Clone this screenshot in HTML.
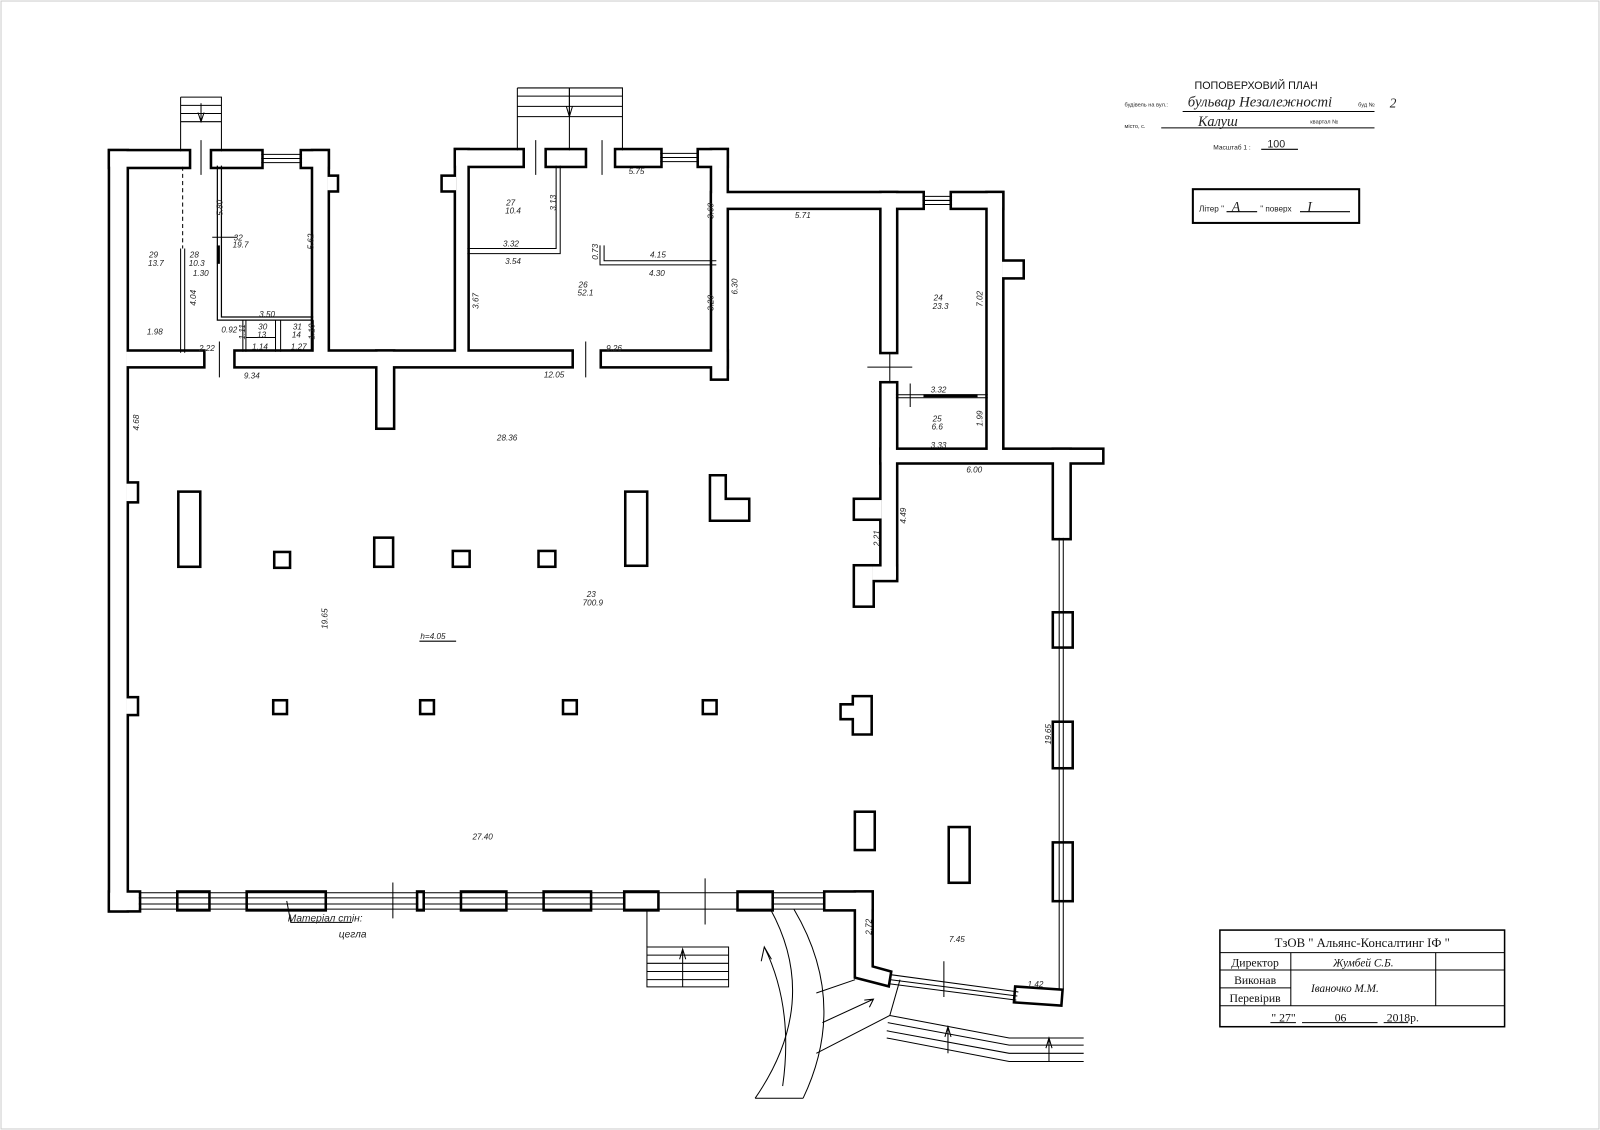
<!DOCTYPE html>
<html><head><meta charset="utf-8"><style>
html,body{margin:0;padding:0;background:#fff;}
svg{display:block;}
text{font-family:"Liberation Sans",sans-serif;font-style:italic;font-size:8px;fill:#222;}
.s{font-family:"Liberation Serif","DejaVu Serif",serif;}
.n{font-style:normal;}
</style></head><body>
<svg width="1600" height="1130" viewBox="0 0 1568 1105" preserveAspectRatio="none" xmlns="http://www.w3.org/2000/svg">
<rect x="1" y="1" width="1566" height="1103" fill="#fff" stroke="#ccc" stroke-width="1"/>
<defs>
<g id="w">
<rect x="108" y="148" width="77" height="15"/>
<rect x="208" y="148" width="48" height="15"/>
<rect x="296" y="148" width="25" height="15"/>
<rect x="108" y="148" width="16" height="742"/>
<rect x="124" y="473" width="10" height="17"/>
<rect x="124" y="683" width="10" height="15"/>
<rect x="307" y="148" width="14" height="203"/>
<rect x="321" y="173" width="9" height="13"/>
<rect x="124" y="344" width="75" height="14"/>
<rect x="231" y="344" width="329" height="14"/>
<rect x="370" y="344" width="15" height="74"/>
<rect x="590" y="344" width="122" height="14"/>
<rect x="447" y="147" width="65" height="15"/>
<rect x="536" y="147" width="37" height="15"/>
<rect x="604" y="147" width="43" height="15"/>
<rect x="685" y="147" width="27" height="15"/>
<rect x="447" y="147" width="11" height="204"/>
<rect x="434" y="173" width="13" height="13"/>
<rect x="698" y="147" width="14" height="223"/>
<rect x="698" y="189" width="206" height="14"/>
<rect x="933" y="189" width="49" height="14"/>
<rect x="864" y="189" width="14" height="155"/>
<rect x="864" y="375" width="14" height="190"/>
<rect x="838" y="489" width="26" height="18"/>
<rect x="838" y="554" width="17" height="38"/>
<rect x="855" y="554" width="23" height="13"/>
<rect x="968" y="189" width="14" height="262"/>
<rect x="982" y="256" width="20" height="15"/>
<rect x="864" y="440" width="216" height="12"/>
<rect x="1033" y="440" width="15" height="86"/>
<rect x="1033" y="600" width="17" height="32"/>
<rect x="1033" y="707" width="17" height="43"/>
<rect x="1033" y="825" width="17" height="55"/>
<polygon points="996,966 1040,969 1039,982 995,979"/>
<rect x="108" y="873" width="28" height="17"/>
<rect x="175" y="873" width="29" height="16"/>
<rect x="243" y="873" width="75" height="16"/>
<rect x="410" y="873" width="4" height="16"/>
<rect x="453" y="873" width="42" height="16"/>
<rect x="534" y="873" width="44" height="16"/>
<rect x="613" y="873" width="31" height="16"/>
<rect x="724" y="873" width="32" height="16"/>
<rect x="809" y="873" width="45" height="16"/>
<polygon points="839,873 854,873 854,946 872,951 870,963 839,955"/>
<rect x="176" y="482" width="19" height="71"/>
<rect x="614" y="482" width="19" height="70"/>
<rect x="270" y="541" width="13" height="13"/>
<rect x="368" y="527" width="16" height="26"/>
<rect x="445" y="540" width="14" height="13"/>
<rect x="529" y="540" width="14" height="13"/>
<polygon points="697,466 710,466 710,489 733,489 733,508 697,508"/>
<rect x="269" y="686" width="11" height="11"/>
<rect x="413" y="686" width="11" height="11"/>
<rect x="553" y="686" width="11" height="11"/>
<rect x="690" y="686" width="11" height="11"/>
<polygon points="837,682 853,682 853,717 837,717 837,702 825,702 825,690 837,690"/>
<rect x="839" y="795" width="17" height="35"/>
<rect x="931" y="810" width="18" height="52"/>
</g>
</defs>
<use href="#w" fill="#000" stroke="#000" stroke-width="5"/>
<use href="#w" fill="#fff" stroke="none"/>

<g stroke="#000" stroke-width="1" fill="none">
<path d="M256,151H296M256,155H296M256,159H296"/>
<path d="M647,150H685M647,154H685M647,158H685"/>
<path d="M904,192H933M904,196H933M904,200H933"/>
<path d="M136,878H410M136,884H410M414,878H613M414,884H613M756,878H809M756,884H809"/>
<path d="M136,873H809M136,889H809"/>
<path d="M1038,526V967M1042,526V967"/>
<path d="M872,953L998,970M872,958L997,974M871,962L996,978"/>
<path d="M213,162V313H307M217,162V310H307" stroke-width="1.2"/>
<path d="M214,240V258" stroke-width="3"/>
<path d="M177,243V345M181,243V345"/>
<path d="M179,163V243" stroke-dasharray="4,3"/>
<path d="M238,313V344M241,313V344M270,313V344M275,313V344M307,313V344M241,330H270"/>
<path d="M545,162V243H458M549,162V248H458"/>
<path d="M588,240V259H702M592,240V255H702"/>
<path d="M878,386H968M878,389H968"/>
<path d="M905,387H958" stroke-width="3"/>
<path d="M197,137V171M558,86V147M525,137V171M590,137V171"/>
<path d="M215,334V369M574,334V369M208,232H232"/>
<path d="M850,359H894M872,345V375M892,375V398"/>
<path d="M385,863V898M691,859V904M925,940V975M634,889V926"/>
<path d="M177,95H217V148M177,95V148M177,103H217M177,111H217M177,119H217"/>
<path d="M197,101V119M194,110L197,119L200,110"/>
<path d="M507,86H610V147M507,86V147M507,94H610M507,104H610M507,114H610"/>
<path d="M558,86V114M555,104L558,114L561,104"/>
<path d="M634,926H714V965H634ZM634,934H714M634,942H714M634,950H714M634,958H714"/>
<path d="M669,965V930M666,938L669,928L672,938"/>
<path d="M755,889Q805,980 740,1074M778,889Q832,980 787,1074M740,1074H787"/>
<path d="M767,1062Q778,985 749,926M746,940L749,926L756,938"/>
<path d="M800,971L838,958M800,1030L872,993L882,958"/>
<path d="M806,1000L856,977M847,978L856,977L852,985"/>
<path d="M872,993L989,1015H1062M870,1000L989,1022H1062M869,1008L989,1030H1062M869,1015L989,1038H1062"/>
<path d="M929,1030V1005M926,1014L929,1004L932,1014M1028,1038V1016M1025,1025L1028,1015L1031,1025"/>
<path d="M281,881L285,902H345"/>
<path d="M411,627H447M1159,109H1347M1138,125H1347M1236,146H1272"/>
<rect x="1169" y="185" width="163" height="33" stroke-width="2"/>
<path d="M1202,207H1232M1274,207H1323"/>
<rect x="1195.5" y="909.5" width="279" height="94.5" stroke-width="1.5"/>
<path d="M1195.5,931.5H1474.5M1195.5,948.5H1474.5M1195.5,966H1265M1195.5,983.5H1474.5M1265,931.5V983.5M1407,931.5V983.5"/>
<path d="M1245,1000H1270M1276,1000H1350M1356,1000H1380"/>
</g>

<g>
<text x="202" y="215" transform="rotate(-90 208 205)">5.80</text>
<text x="229" y="235">32</text><text x="228" y="242">19.7</text>
<text x="298" y="245" transform="rotate(-90 302 240)">5.62</text>
<text x="146" y="252">29</text><text x="145" y="260">13.7</text>
<text x="186" y="252">28</text><text x="185" y="260">10.3</text>
<text x="189" y="270">1.30</text>
<text x="183" y="300" transform="rotate(-90 187 295)">4.04</text>
<text x="144" y="327">1.98</text>
<text x="254" y="310">3.50</text>
<text x="217" y="325">0.92</text>
<text x="253" y="322">30</text><text x="252" y="330">13</text>
<text x="287" y="322">31</text><text x="286" y="330">14</text>
<text x="232" y="332" transform="rotate(-90 236 328)">1.11</text>
<text x="300" y="332" transform="rotate(-90 304 328)">1.10</text>
<text x="247" y="342">1.14</text>
<text x="285" y="342">1.27</text>
<text x="195" y="343">2.22</text>
<text x="239" y="370">9.34</text>
<text x="125" y="420" transform="rotate(-90 131 415)">4.68</text>
<text x="496" y="201">27</text><text x="495" y="209">10.4</text>
<text x="535" y="206" transform="rotate(-90 540 201)">3.13</text>
<text x="616" y="170">5.75</text>
<text x="690" y="215" transform="rotate(-90 694 210)">3.60</text>
<text x="493" y="241">3.32</text>
<text x="495" y="258">3.54</text>
<text x="576" y="254" transform="rotate(-90 581 249)">0.73</text>
<text x="637" y="252">4.15</text>
<text x="636" y="270">4.30</text>
<text x="567" y="281">26</text><text x="566" y="289">52.1</text>
<text x="459" y="302" transform="rotate(-90 464 297)">3.67</text>
<text x="690" y="305" transform="rotate(-90 694 300)">3.20</text>
<text x="714" y="289" transform="rotate(-90 718 284)">6.30</text>
<text x="594" y="343">9.26</text>
<text x="533" y="369">12.05</text>
<text x="779" y="213">5.71</text>
<text x="915" y="294">24</text><text x="914" y="302">23.3</text>
<text x="954" y="301" transform="rotate(-90 958 296)">7.02</text>
<text x="912" y="384">3.32</text>
<text x="914" y="412">25</text><text x="913" y="420">6.6</text>
<text x="954" y="418" transform="rotate(-90 958 413)">1.99</text>
<text x="912" y="438">3.33</text>
<text x="947" y="462">6.00</text>
<text x="879" y="513" transform="rotate(-90 883 508)">4.49</text>
<text x="853" y="535" transform="rotate(-90 857 530)">2.21</text>
<text x="487" y="431">28.36</text>
<text x="575" y="584">23</text><text x="571" y="592">700.9</text>
<text x="311" y="615" transform="rotate(-90 316 610)">19.65</text>
<text x="412" y="625">h=4.05</text>
<text x="1020" y="728" transform="rotate(-90 1025 723)">19.65</text>
<text x="463" y="821">27.40</text>
<text x="845" y="915" transform="rotate(-90 849 910)">2.72</text>
<text x="930" y="921">7.45</text>
<text x="1007" y="965">1.42</text>
<text x="282" y="901" style="font-size:10px">Матеріал стін:</text>
<text x="332" y="917" style="font-size:10px">цегла</text>
</g>

<text x="1231" y="87" class="n" text-anchor="middle" style="font-size:10.5px;fill:#111">ПОПОВЕРХОВИЙ ПЛАН</text>
<text x="1102" y="104" class="n" style="font-size:5.5px">будівель на вул.:</text>
<text x="1164" y="104" class="s" style="font-size:14.5px;fill:#222">бульвар Незалежності</text>
<text x="1331" y="104" class="n" style="font-size:5.5px">буд №</text>
<text x="1362" y="105" class="s" style="font-size:13px">2</text>
<text x="1102" y="125" class="n" style="font-size:5.5px">місто, с.</text>
<text x="1174" y="123" class="s" style="font-size:14px">Калуш</text>
<text x="1284" y="121" class="n" style="font-size:5.5px">квартал №</text>
<text x="1189" y="146" class="n" style="font-size:6.5px">Масштаб 1 :</text>
<text x="1242" y="144" class="n" style="font-size:10.5px">100</text>
<text x="1175" y="207" class="n" style="font-size:8px">Літер "</text>
<text x="1207" y="207" class="s" style="font-size:14px">A</text>
<text x="1235" y="207" class="n" style="font-size:8px">"  поверх</text>
<text x="1281" y="207" class="s" style="font-size:14px">I</text>
<g>
<text x="1335" y="926" text-anchor="middle" class="s n" style="font-size:12.5px;fill:#111">ТзОВ " Альянс-Консалтинг ІФ "</text>
<text x="1230" y="945" text-anchor="middle" class="s n" style="font-size:11.5px;fill:#111">Директор</text>
<text x="1230" y="962" text-anchor="middle" class="s n" style="font-size:11.5px;fill:#111">Виконав</text>
<text x="1230" y="980" text-anchor="middle" class="s n" style="font-size:11.5px;fill:#111">Перевірив</text>
<text x="1336" y="945" text-anchor="middle" class="s" style="font-size:11px;fill:#111">Жумбей С.Б.</text>
<text x="1318" y="970" text-anchor="middle" class="s" style="font-size:11px;fill:#111">Іваночко М.М.</text>
<text x="1246" y="999" class="s n" style="font-size:11.5px;fill:#111">" 27"</text>
<text x="1308" y="999" class="s n" style="font-size:11.5px;fill:#111">06</text>
<text x="1359" y="999" class="s n" style="font-size:11.5px;fill:#111">2018р.</text>
</g>
</svg>
</body></html>
